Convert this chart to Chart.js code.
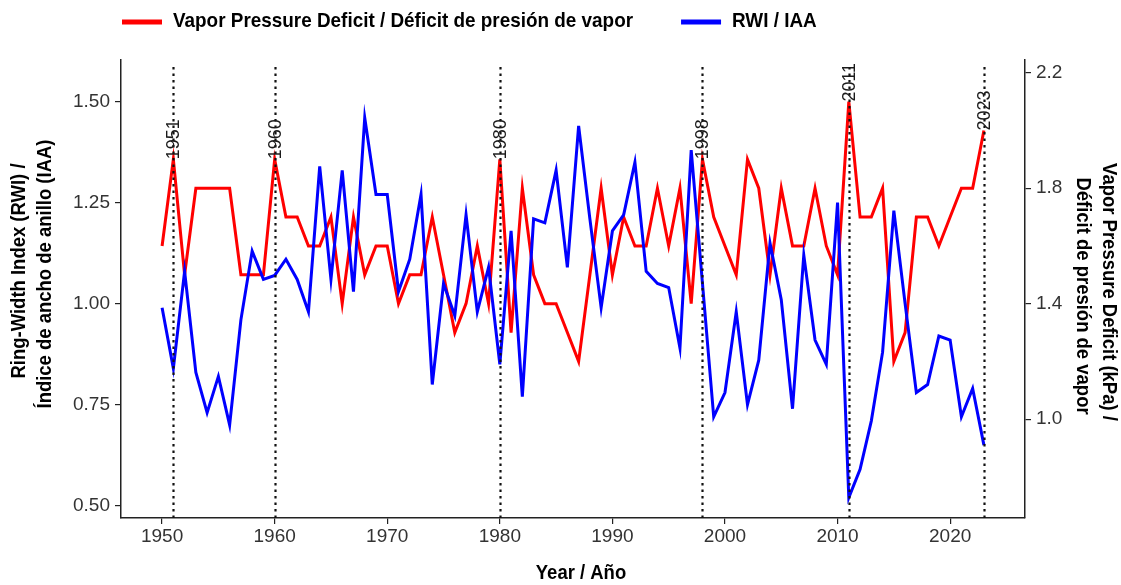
<!DOCTYPE html>
<html>
<head>
<meta charset="utf-8">
<script src="https://cdn.jsdelivr.net/npm/chart.js@4.4.1/dist/chart.umd.min.js"></script>
<style>
  html, body { margin: 0; padding: 0; background: #ffffff; }
  #wrap { width: 1121px; height: 585px; position: relative; }
</style>
</head>
<body>
<div id="wrap"><canvas id="c" width="1121" height="585"></canvas></div>
<script>
// Years of the record
const years = [
  1950, 1951, 1952, 1953, 1954, 1955, 1956, 1957, 1958, 1959,
  1960, 1961, 1962, 1963, 1964, 1965, 1966, 1967, 1968, 1969,
  1970, 1971, 1972, 1973, 1974, 1975, 1976, 1977, 1978, 1979,
  1980, 1981, 1982, 1983, 1984, 1985, 1986, 1987, 1988, 1989,
  1990, 1991, 1992, 1993, 1994, 1995, 1996, 1997, 1998, 1999,
  2000, 2001, 2002, 2003, 2004, 2005, 2006, 2007, 2008, 2009,
  2010, 2011, 2012, 2013, 2014, 2015, 2016, 2017, 2018, 2019,
  2020, 2021, 2022, 2023
];

// Ring-width index (left axis)
const rwi = [
  0.99, 0.84, 1.08, 0.83, 0.73, 0.82, 0.70, 0.96, 1.13, 1.06,
  1.07, 1.11, 1.06, 0.98, 1.34, 1.06, 1.33, 1.03, 1.46, 1.27,
  1.27, 1.03, 1.11, 1.27, 0.80, 1.05, 0.97, 1.22, 0.98, 1.09,
  0.85, 1.18, 0.77, 1.21, 1.20, 1.33, 1.09, 1.44, 1.21, 0.99,
  1.18, 1.22, 1.35, 1.08, 1.05, 1.04, 0.89, 1.38, 1.05, 0.72,
  0.78, 0.98, 0.75, 0.86, 1.15, 1.01, 0.74, 1.12, 0.91, 0.85,
  1.25, 0.52, 0.59, 0.71, 0.88, 1.23, 1.00, 0.78, 0.80, 0.92,
  0.91, 0.72, 0.79, 0.65
];

// Vapor pressure deficit in kPa (right axis)
const vpd = [
  1.6, 1.9, 1.5, 1.8, 1.8, 1.8, 1.8, 1.5, 1.5, 1.5,
  1.9, 1.7, 1.7, 1.6, 1.6, 1.7, 1.4, 1.7, 1.5, 1.6,
  1.6, 1.4, 1.5, 1.5, 1.7, 1.5, 1.3, 1.4, 1.6, 1.4,
  1.9, 1.3, 1.8, 1.5, 1.4, 1.4, 1.3, 1.2, 1.5, 1.8,
  1.5, 1.7, 1.6, 1.6, 1.8, 1.6, 1.8, 1.4, 1.9, 1.7,
  1.6, 1.5, 1.9, 1.8, 1.5, 1.8, 1.6, 1.6, 1.8, 1.6,
  1.5, 2.1, 1.7, 1.7, 1.8, 1.2, 1.3, 1.7, 1.7, 1.6,
  1.7, 1.8, 1.8, 2.0
];

// Highlighted years (dotted markers, labelled at their VPD value)
const markedYears = [1951, 1960, 1980, 1998, 2011, 2023];

// Tick labels
const xTicks = [1950, 1960, 1970, 1980, 1990, 2000, 2010, 2020];
const rwiTicks = [0.50, 0.75, 1.00, 1.25, 1.50];
const vpdTicks = [1.0, 1.4, 1.8, 2.2];

// Texts
const seriesNames = ['Vapor Pressure Deficit / Déficit de presión de vapor', 'RWI / IAA'];
const seriesColors = ['#ff0000', '#0000ff'];
const xTitle = 'Year / Año';
const leftTitle = ['Ring-Width Index (RWI) /', 'Índice de ancho de anillo (IAA)'];
const rightTitle = ['Vapor Pressure Deficit (kPa) /', 'Déficit de presión de vapor'];

// Axis ranges: the secondary axis is the primary one scaled by 1.4
const RWI_MIN = 0.4696, RWI_MAX = 1.603, VPD_PER_RWI = 1.4;
const YEAR_MIN = 1946.35, YEAR_MAX = 2026.65;

const SANS = "'Liberation Sans', Arial, sans-serif";
const BOLD = "bold 21px 'Liberation Sans', Arial, sans-serif";

const toPoints = (vals) => years.map((yr, i) => ({ x: yr, y: vals[i] }));

// Draw a string with a horizontal squeeze (condensed look), centred or left-aligned
function condensedText(ctx, text, x, y, rot, squeeze, align) {
  ctx.save();
  ctx.translate(x, y);
  ctx.rotate(rot);
  ctx.scale(squeeze, 1);
  ctx.textAlign = align;
  ctx.textBaseline = 'middle';
  ctx.fillText(text, 0, 0);
  ctx.restore();
}

// Dotted year markers with rotated labels
const markerPlugin = {
  id: 'yearMarkers',
  afterDatasetsDraw(chart) {
    const { ctx, chartArea } = chart;
    const xs = chart.scales.x, ys = chart.scales.y2;
    ctx.save();
    markedYears.forEach((yr) => {
      const px = Math.round(xs.getPixelForValue(yr)) + 0.5;
      ctx.beginPath();
      ctx.setLineDash([2.5, 4]);
      ctx.lineWidth = 2.2;
      ctx.strokeStyle = '#111';
      ctx.moveTo(px, chartArea.bottom);
      ctx.lineTo(px, chartArea.top + 4);
      ctx.stroke();
    });
    ctx.setLineDash([]);
    ctx.fillStyle = '#1a1a1a';
    ctx.font = "18px " + SANS;
    ctx.textAlign = 'left';
    ctx.textBaseline = 'middle';
    markedYears.forEach((yr) => {
      const v = vpd[years.indexOf(yr)];
      const px = xs.getPixelForValue(yr);
      const py = ys.getPixelForValue(v);
      ctx.save();
      ctx.translate(px, py);
      ctx.rotate(-Math.PI / 2);
      ctx.fillText(String(yr), 0, 1);
      ctx.restore();
    });
    ctx.restore();
  }
};

// Legend row and axis titles
const textPlugin = {
  id: 'chartTexts',
  afterDraw(chart) {
    const { ctx, chartArea } = chart;
    const squeezeLegend = 0.9, squeezeTitle = 0.88;
    ctx.save();
    ctx.font = BOLD;
    ctx.fillStyle = '#000';

    // legend
    const y = 21;
    let x = chartArea.left + 1;
    chart.data.datasets.forEach((ds) => {
      ctx.beginPath();
      ctx.strokeStyle = ds.borderColor;
      ctx.lineWidth = 5;
      ctx.moveTo(x, y + 1);
      ctx.lineTo(x + 40, y + 1);
      ctx.stroke();
      condensedText(ctx, ds.label, x + 51, y, 0, squeezeLegend, 'left');
      x += 51 + ctx.measureText(ds.label).width * squeezeLegend + 48;
    });

    // axis titles
    const cy = (chartArea.top + chartArea.bottom) / 2;
    const cx = (chartArea.left + chartArea.right) / 2;
    condensedText(ctx, xTitle, cx + 8, chartArea.bottom + 55, 0, squeezeTitle, 'center');
    condensedText(ctx, leftTitle[0], chartArea.left - 101.5, cy - 18, -Math.PI / 2, squeezeTitle, 'center');
    condensedText(ctx, leftTitle[1], chartArea.left - 76, cy - 15, -Math.PI / 2, squeezeTitle, 'center');
    condensedText(ctx, rightTitle[0], chartArea.right + 83.5, cy + 3, Math.PI / 2, squeezeTitle, 'center');
    condensedText(ctx, rightTitle[1], chartArea.right + 57.5, cy + 7, Math.PI / 2, squeezeTitle, 'center');
    ctx.restore();
  }
};

const tickFont = { family: SANS, size: 19 };
const tickGrid = { drawOnChartArea: false, drawTicks: true, tickLength: 6, color: '#222', lineWidth: 1.2 };
const axisBorder = { display: true, color: '#222', width: 1.5 };

new Chart(document.getElementById('c'), {
  type: 'line',
  data: {
    datasets: [
      {
        label: seriesNames[0],
        data: toPoints(vpd),
        yAxisID: 'y2',
        borderColor: seriesColors[0],
        borderWidth: 3,
        pointRadius: 0,
        tension: 0,
        order: 2
      },
      {
        label: seriesNames[1],
        data: toPoints(rwi),
        yAxisID: 'y',
        borderColor: seriesColors[1],
        borderWidth: 3,
        pointRadius: 0,
        tension: 0,
        order: 1
      }
    ]
  },
  options: {
    responsive: false,
    animation: false,
    devicePixelRatio: 1,
    layout: { padding: { top: 60, left: 0, right: 0, bottom: 0 } },
    plugins: { legend: { display: false }, tooltip: { enabled: false } },
    scales: {
      x: {
        type: 'linear',
        position: 'bottom',
        min: YEAR_MIN,
        max: YEAR_MAX,
        afterBuildTicks: (s) => { s.ticks = xTicks.map((v) => ({ value: v })); },
        afterFit: (s) => { s.height = 67; },
        ticks: { font: tickFont, color: '#333', padding: 1, maxRotation: 0, autoSkip: false, callback: (v) => String(v) },
        grid: tickGrid,
        border: axisBorder
      },
      y: {
        type: 'linear',
        position: 'left',
        min: RWI_MIN,
        max: RWI_MAX,
        afterBuildTicks: (s) => { s.ticks = rwiTicks.map((v) => ({ value: v })); },
        afterFit: (s) => { s.width = 121; },
        ticks: { font: tickFont, color: '#333', padding: 5, callback: (v) => Number(v).toFixed(2) },
        grid: tickGrid,
        border: axisBorder
      },
      y2: {
        type: 'linear',
        position: 'right',
        min: RWI_MIN * VPD_PER_RWI,
        max: RWI_MAX * VPD_PER_RWI,
        afterBuildTicks: (s) => { s.ticks = vpdTicks.map((v) => ({ value: v })); },
        afterFit: (s) => { s.width = 96; },
        ticks: { font: tickFont, color: '#333', padding: 5, callback: (v) => Number(v).toFixed(1) },
        grid: tickGrid,
        border: axisBorder
      }
    }
  },
  plugins: [markerPlugin, textPlugin]
});
</script>
</body>
</html>
